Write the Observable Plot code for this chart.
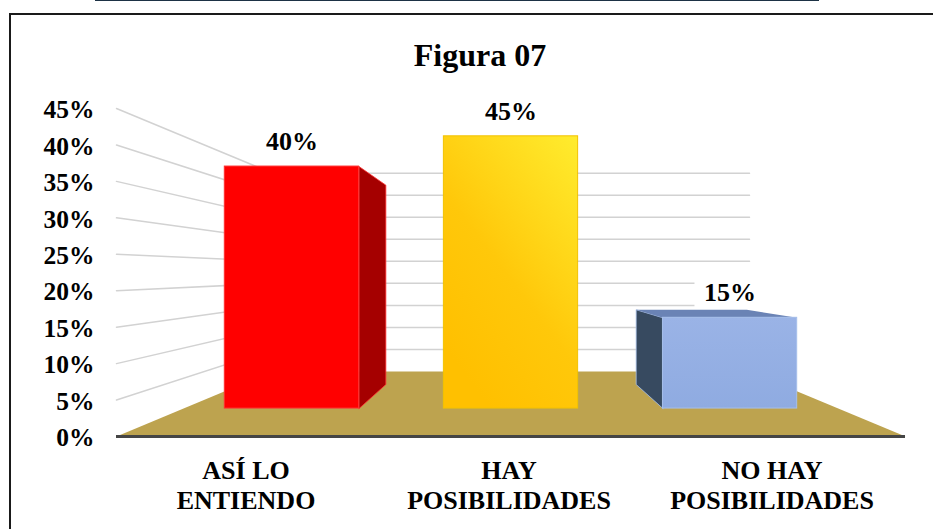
<!DOCTYPE html>
<html>
<head>
<meta charset="utf-8">
<script src="https://cdn.jsdelivr.net/npm/d3@7"></script>
<script src="https://cdn.jsdelivr.net/npm/@observablehq/plot@0.6"></script>
<style>
html,body{margin:0;padding:0;background:#fff;width:933px;height:529px;overflow:hidden}
#page{position:relative;width:933px;height:529px}
#page svg{display:block;background:transparent}
#rule{position:absolute;left:95px;top:0;width:724px;height:1px;background:#1d3245}
#frame{position:absolute;left:9px;top:13px;right:0;bottom:0;border-left:2px solid #1a1a1a;border-top:2px solid #1a1a1a}
</style>
</head>
<body>
<div id="page"><div id="rule"></div><div id="frame"></div></div>
<script>
const chartTitle = "Figura 07";
const categories = ["ASÍ LO\nENTIENDO", "HAY\nPOSIBILIDADES", "NO HAY\nPOSIBILIDADES"];
const values = [40, 45, 15];
const valueTicks = [0, 5, 10, 15, 20, 25, 30, 35, 40, 45];
const frontFills = ["#ff0000", "url(#gold)", "url(#blue)"];
const frontEdges = ["#ff3030", "#f2c200", "#a6bfea"];
const sideFills = ["#a50000", "none", "#374a60"];
const topFills = ["none", "none", "#6a83b5"];

// Perspective of the chart's box, in scale units
const shrink = 0.3954, rise = 8.92, depthFront = 0.43, depthBack = 0.8, barShare = 0.615;
const scaleAt = d => 1 - shrink * d;
const project = (u, v, d) => ({x: 0.5 + (u - 0.5) * scaleAt(d), y: rise * d + v * scaleAt(d)});
const poly = corners => corners.map(([u, v, d]) => project(u, v, d));

const bars = values.map((v, i) => {
  const c = (i + 0.5) / categories.length + (i - 1) * 0.0012, half = barShare / categories.length / 2;
  const u1 = c - half, u2 = c + half;
  const a = project(u1, 0, depthFront), b = project(u2, v, depthFront);
  return {i, v, c, u1, u2, x1: a.x, x2: b.x, y1: a.y, y2: b.y,
    labelX: project(c, v, depthFront).x, side: u2 < 0.5 ? u2 : u1 > 0.5 ? u1 : null};
});

const grid = valueTicks.filter(t => t > 0).flatMap(t => [
  {t, ...project(0, t, 0)}, {t, ...project(0, t, 1)}, {t, ...project(1, t, 1)}
]);
const floor = poly([[0, 0, 0], [1, 0, 0], [1, 0, 1], [0, 0, 1]]);

const defs = () => {
  const s = d3.create("svg:defs");
  const g = s.append("linearGradient").attr("id", "gold").attr("x1", 1).attr("y1", 0).attr("x2", 0.35).attr("y2", 1);
  g.append("stop").attr("offset", 0).attr("stop-color", "#ffec2e");
  g.append("stop").attr("offset", 0.6).attr("stop-color", "#ffc80a");
  g.append("stop").attr("offset", 1).attr("stop-color", "#ffc000");
  const b = s.append("linearGradient").attr("id", "blue").attr("x1", 0).attr("y1", 0).attr("x2", 0).attr("y2", 1);
  b.append("stop").attr("offset", 0).attr("stop-color", "#9ab3e6");
  b.append("stop").attr("offset", 1).attr("stop-color", "#8fabe1");
  return s.node();
};

const serif = {fontFamily: "Liberation Serif", fontWeight: "bold", fill: "#000"};
const labelBox = {halfW: 0.0445, below: 1, above: 5.6};

const chart = Plot.plot({
  width: 933, height: 529,
  marginLeft: 116, marginRight: 28, marginTop: 108, marginBottom: 93,
  style: {background: "transparent"},
  x: {domain: [0, 1], axis: null},
  y: {domain: [0, 45], axis: null},
  marks: [
    defs,
    Plot.line(grid, {x: "x", y: "y", z: "t", stroke: "#d2d2d2", strokeWidth: 1.5, curve: "linear"}),
    // the white plate behind the smallest bar's label interrupts the wall lines
    Plot.rect(bars.filter(b => b.v < 20), {
      x1: b => b.labelX - labelBox.halfW, x2: b => b.labelX + labelBox.halfW,
      y1: b => b.y2 + labelBox.below, y2: b => b.y2 + labelBox.above, fill: "#fff", inset: 0
    }),
    Plot.line(floor.concat(floor[0]), {x: "x", y: "y", fill: "#bda34f", stroke: "none"}),
    ...bars.filter(b => b.side !== null).map(b => Plot.line(
      poly([[b.side, 0, depthFront], [b.side, 0, depthBack], [b.side, b.v, depthBack], [b.side, b.v, depthFront], [b.side, 0, depthFront]]),
      {x: "x", y: "y", fill: sideFills[b.i], stroke: frontEdges[b.i], strokeWidth: 0.8}
    )),
    ...bars.filter(b => topFills[b.i] !== "none").map(b => Plot.line(
      poly([[b.u1, b.v, depthFront], [b.u1, b.v, depthBack], [b.u2, b.v, depthBack], [b.u2, b.v, depthFront], [b.u1, b.v, depthFront]]),
      {x: "x", y: "y", fill: topFills[b.i], stroke: "none"}
    )),
    Plot.rect(bars, {x1: "x1", x2: "x2", y1: "y1", y2: "y2",
      fill: b => frontFills[b.i], stroke: b => frontEdges[b.i], strokeWidth: 1}),
    Plot.ruleY([0], {stroke: "#454545", strokeWidth: 3}),
    Plot.axisY(valueTicks, {anchor: "left", tickSize: 0, tickPadding: 22, label: null,
      tickFormat: d => d + "%", fontSize: 25.5, dy: 1.5, ...serif}),
    Plot.text(bars, {x: "labelX", y: "y2", text: b => b.v + "%", dy: -25, fontSize: 26, ...serif}),
    Plot.text(categories, {x: (d, i) => (i + 0.5) / categories.length, y: () => 0, text: d => d,
      dx: -2, dy: 48, lineHeight: 1.154, lineAnchor: "middle", fontSize: 26, ...serif}),
    Plot.text([chartTitle], {frameAnchor: "top", text: d => d, dx: -31, dy: -53,
      lineAnchor: "middle", fontSize: 32, ...serif})
  ]
});
document.getElementById("page").appendChild(chart);
</script>
</body>
</html>
